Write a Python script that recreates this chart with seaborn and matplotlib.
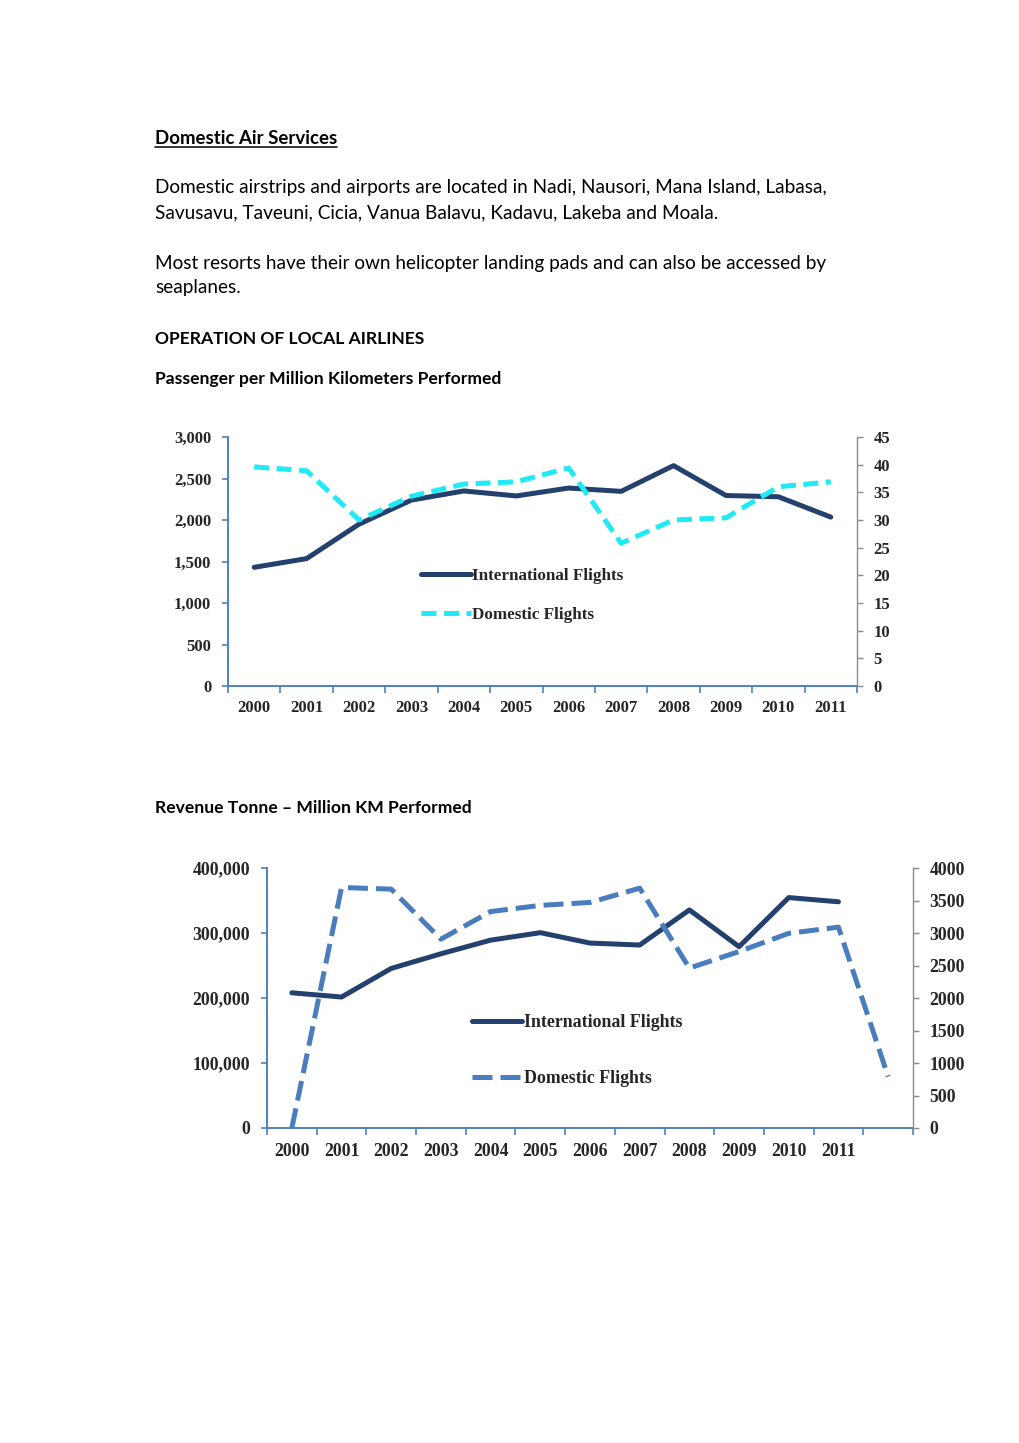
import numpy as np
import pandas as pd
import matplotlib
matplotlib.use("Agg")
import matplotlib.pyplot as plt
import matplotlib.ticker as mticker
from matplotlib.lines import Line2D
import seaborn as sns

# ---------------- data ----------------
years1 = ["2000", "2001", "2002", "2003", "2004", "2005", "2006", "2007", "2008", "2009", "2010", "2011"]
pax_international = [1430, 1535, 1950, 2240, 2350, 2290, 2385, 2345, 2655, 2295, 2280, 2035]
pax_domestic = [39.6, 38.9, 30.0, 34.3, 36.5, 36.9, 39.4, 25.8, 30.0, 30.4, 36.0, 36.9]

years2 = ["2000", "2001", "2002", "2003", "2004", "2005", "2006", "2007", "2008", "2009", "2010", "2011", ""]
rev_international = [208000, 201500, 245500, 268000, 289000, 300500, 284500, 281500, 335500, 279000, 354500, 348000]
rev_domestic = [0, 3700, 3675, 2905, 3330, 3425, 3470, 3690, 2460, 2715, 2995, 3090, 790]

series_labels = ["International Flights", "Domestic Flights"]

# ---------------- style ----------------
sns.set_theme(style="white")
plt.rcParams["font.family"] = ["Lato", "DejaVu Sans"]

W, H = 1020, 1443
fig = plt.figure(figsize=(W / 100, H / 100), dpi=100)
fig.patch.set_facecolor("white")

def fy(px):
    return 1 - px / H

def fx(px):
    return px / W

body_fs = 13.7
txt_kw = dict(va="center", ha="left", color="black")

t = fig.text(fx(155), fy(138), "Domestic Air Services", fontweight="bold", fontsize=13.4, **txt_kw)
fig.text(fx(155), fy(188), "Domestic airstrips and airports are located in Nadi, Nausori, Mana Island, Labasa,", fontsize=body_fs, **txt_kw)
fig.text(fx(155), fy(213), "Savusavu, Taveuni, Cicia, Vanua Balavu, Kadavu, Lakeba and Moala.", fontsize=body_fs, **txt_kw)
fig.text(fx(155), fy(263), "Most resorts have their own helicopter landing pads and can also be accessed by", fontsize=body_fs, **txt_kw)
fig.text(fx(155), fy(288), "seaplanes.", fontsize=body_fs, **txt_kw)
fig.text(fx(155), fy(339), "OPERATION OF LOCAL AIRLINES", fontweight="bold", fontsize=12.6, **txt_kw)
fig.text(fx(155), fy(379), "Passenger per Million Kilometers Performed", fontweight="bold",
         fontsize=12.6, **txt_kw)
fig.text(fx(155), fy(808), "Revenue Tonne \u2013 Million KM Performed", fontweight="bold",
         fontsize=12.6, **txt_kw)

# underline for heading
fig.canvas.draw()
bb = t.get_window_extent(renderer=fig.canvas.get_renderer())
fig.add_artist(Line2D([bb.x0 / W, bb.x1 / W], [fy(147), fy(147)], color="black", lw=1.1,
                      transform=fig.transFigure))

navy = "#24416E"
cyan = "#1FEAF5"
midblue = "#4A7DBE"
axis_blue = "#4F81BD"
axis_gray = "#8C8C8C"
serif = ["Liberation Serif", "DejaVu Serif"]


def style_axes(ax, ax2, n, fs, xpad):
    ax.set_xlim(-0.5, n - 0.5)
    ax.xaxis.set_major_locator(mticker.FixedLocator(np.arange(-0.5, n, 1.0)))
    ax.xaxis.set_major_formatter(mticker.NullFormatter())
    ax.xaxis.set_minor_locator(mticker.FixedLocator(np.arange(n)))
    ax.spines["top"].set_visible(False)
    ax2.spines["top"].set_visible(False)
    ax.spines["right"].set_visible(False)
    ax2.spines["left"].set_visible(False)
    ax2.spines["bottom"].set_visible(False)
    for sp in ["left", "bottom"]:
        ax.spines[sp].set_color(axis_blue)
        ax.spines[sp].set_linewidth(1.4)
    ax2.spines["right"].set_color(axis_gray)
    ax2.spines["right"].set_linewidth(1.0)
    ax.tick_params(axis="x", which="major", direction="out", length=5, color=axis_blue, width=1.2, bottom=True)
    ax.tick_params(axis="x", which="minor", length=0, pad=xpad, labelsize=fs, bottom=True)
    ax.tick_params(axis="y", direction="out", length=4, color=axis_blue, width=1.2, pad=8, labelsize=fs, left=True)
    ax2.tick_params(axis="y", direction="out", length=4, color=axis_gray, width=1.0, pad=8, labelsize=fs, right=True)
    for a in (ax, ax2):
        for lab in a.get_xticklabels(which="both") + a.get_yticklabels():
            lab.set_fontfamily(serif)
            lab.set_fontweight("bold")
        a.set_xlabel("")
        a.set_ylabel("")
        a.grid(False)
        a.set_facecolor("none")


# ---------------- chart 1 ----------------
ax1 = fig.add_axes([fx(228), fy(686), (857 - 228) / W, (686 - 437) / H])
ax1b = ax1.twinx()
x1 = np.arange(len(years1))
df1 = pd.DataFrame({"x": x1, "intl": pax_international, "dom": pax_domestic})
sns.lineplot(data=df1, x="x", y="intl", ax=ax1, color=navy, linewidth=3.6,
             label=series_labels[0], legend=False)
sns.lineplot(data=df1, x="x", y="dom", ax=ax1b, color=cyan, linewidth=3.6,
             linestyle=(0, (3.0, 1.5)), label=series_labels[1], legend=False)
ax1.set_ylim(0, 3000)
ax1.yaxis.set_major_locator(mticker.MultipleLocator(500))
ax1.yaxis.set_major_formatter(mticker.StrMethodFormatter("{x:,.0f}"))
ax1b.set_ylim(0, 45)
ax1b.yaxis.set_major_locator(mticker.MultipleLocator(5))
ax1.xaxis.set_minor_formatter(mticker.FixedFormatter(years1))
style_axes(ax1, ax1b, len(years1), 12, 10)

h1 = ax1.get_lines()[:1] + ax1b.get_lines()[:1]
leg1 = fig.legend(h1, series_labels, loc="upper left", bbox_to_anchor=(fx(421), fy(568)),
                  bbox_transform=fig.transFigure, frameon=False, handlelength=2.9,
                  handletextpad=0.1, labelspacing=1.35, borderpad=0, borderaxespad=0,
                  prop={"family": serif, "weight": "bold", "size": 12.3})

# ---------------- chart 2 ----------------
ax2 = fig.add_axes([fx(267), fy(1128), (913 - 267) / W, (1128 - 868) / H])
ax2b = ax2.twinx()
df2a = pd.DataFrame({"x": np.arange(len(rev_international)), "intl": rev_international})
df2b = pd.DataFrame({"x": np.arange(len(rev_domestic)), "dom": rev_domestic})
sns.lineplot(data=df2a, x="x", y="intl", ax=ax2, color=navy, linewidth=3.6,
             label=series_labels[0], legend=False)
sns.lineplot(data=df2b, x="x", y="dom", ax=ax2b, color=midblue, linewidth=3.6,
             linestyle=(0, (4.0, 1.6)), label=series_labels[1], legend=False)
ax2.set_ylim(0, 400000)
ax2.yaxis.set_major_locator(mticker.MultipleLocator(100000))
ax2.yaxis.set_major_formatter(mticker.StrMethodFormatter("{x:,.0f}"))
ax2b.set_ylim(0, 4000)
ax2b.yaxis.set_major_locator(mticker.MultipleLocator(500))
ax2.xaxis.set_minor_formatter(mticker.FixedFormatter(years2))
style_axes(ax2, ax2b, len(years2), 12.8, 11)

h2 = ax2.get_lines()[:1] + ax2b.get_lines()[:1]
leg2 = fig.legend(h2, series_labels, loc="upper left", bbox_to_anchor=(fx(472), fy(1014)),
                  bbox_transform=fig.transFigure, frameon=False, handlelength=2.8,
                  handletextpad=0.1, labelspacing=2.2, borderpad=0, borderaxespad=0,
                  prop={"family": serif, "weight": "bold", "size": 12.9})

fig.savefig("out.png", dpi=100, facecolor="white")
